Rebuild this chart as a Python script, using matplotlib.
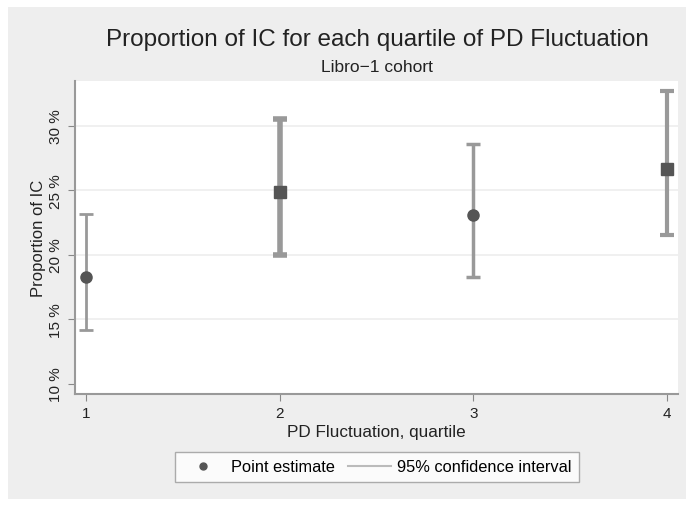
import matplotlib
matplotlib.use('Agg')
import matplotlib.pyplot as plt
from matplotlib.lines import Line2D
from matplotlib.patches import Rectangle

plt.rcParams['font.family'] = ['Liberation Sans', 'DejaVu Sans']

# Données
quartiles = [1, 2, 3, 4]
estimate = [18.25, 24.9, 23.05, 26.65]
ci_low = [14.2, 19.95, 18.25, 21.55]
ci_high = [23.15, 30.5, 28.55, 32.7]
markers = ['o', 's', 'o', 's']
widths = [2.0, 4.0, 2.5, 3.0]
yticks = [10, 15, 20, 25, 30]

fig = plt.figure(figsize=(6.86, 5.06), dpi=100)
fig.patch.set_facecolor('white')
fig.patches.append(Rectangle((8 / 686, 6 / 506), 1, 1 - 14 / 506, transform=fig.transFigure,
                             facecolor='#eeeeee', edgecolor='none', zorder=-10))

ax = fig.add_axes([75 / 686, 1 - 395 / 506, 603 / 686, 313 / 506])
ax.set_facecolor('white')

for q, e, lo, hi, m, w in zip(quartiles, estimate, ci_low, ci_high, markers, widths):
    ax.errorbar(q, e, yerr=[[e - lo], [hi - e]], fmt='none', ecolor='#999999',
                elinewidth=w, capsize=5, capthick=w, zorder=2)
    ax.plot(q, e, marker=m, color='#555555', markersize=8, linestyle='none', zorder=3)

ax.set_xlim(0.943, 4.057)
ax.set_ylim(9.22, 33.46)
ax.set_xticks(quartiles)
ax.set_yticks(yticks)
ax.set_yticklabels([f'{t} %' for t in yticks], rotation=90, va='center')
for t in [15, 20, 25, 30]:
    ax.axhline(t, color='#eeeeee', linewidth=1.2, zorder=0)

for s in ['top', 'right']:
    ax.spines[s].set_visible(False)
for s in ['left', 'bottom']:
    ax.spines[s].set_color('#999999')
    ax.spines[s].set_linewidth(1.5)
ax.tick_params(axis='both', colors='#888888', labelcolor='#222222', labelsize=11, length=5)

ax.set_xlabel('PD Fluctuation, quartile', fontsize=12.3, color='#222222', labelpad=3)
ax.set_ylabel('Proportion of IC', fontsize=12, color='#222222', labelpad=2)

fig.text(377 / 686, 1 - 40 / 506, 'Proportion of IC for each quartile of PD Fluctuation',
         ha='center', va='center', fontsize=17.5, color='#222222')
fig.text(377 / 686, 1 - 67 / 506, 'Libro\u22121 cohort', ha='center', va='center',
         fontsize=12.5, color='#222222')

handles = [Line2D([], [], marker='o', color='#555555', linestyle='none', markersize=5),
           Line2D([], [], color='#bbbbbb', linewidth=1.5)]
leg = fig.legend(handles, ['Point estimate', '95% confidence interval'], ncol=2,
                 loc='center', bbox_to_anchor=(377 / 686, 1 - 468 / 506), fontsize=11.8,
                 frameon=True, fancybox=False, edgecolor='#999999', handlelength=2.6,
                 handletextpad=0.4, columnspacing=0.8, borderpad=0.45,
                 borderaxespad=0)
leg.get_frame().set_facecolor('white')

plt.savefig('out.png', dpi=100)
